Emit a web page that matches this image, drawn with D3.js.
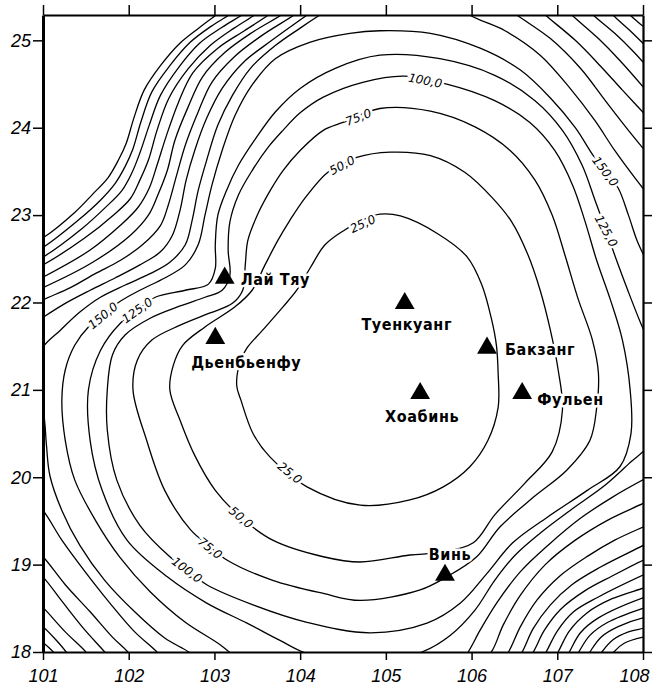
<!DOCTYPE html>
<html><head><meta charset="utf-8">
<script src="https://cdn.jsdelivr.net/npm/d3@7"></script>
<style>body{margin:0;background:#fff}</style>
</head><body>
<svg id="chart" width="652" height="687"></svg>
<script>
// ---- axis ticks ----
const xTicks = [101,102,103,104,105,106,107,108];
const yTicks = [18,19,20,21,22,23,24,25];

// ---- contour lines, [lon, lat] ----
const c25 = [[104.93,23.01],[105.17,22.99],[105.60,22.79],[105.95,22.52],[106.12,22.20],[106.23,21.82],[106.29,21.51],[106.31,21.19],[106.31,20.80],[106.19,20.42],[105.98,20.12],[105.67,19.89],[105.28,19.74],[104.70,19.68],[104.08,19.89],[103.65,20.23],[103.45,20.50],[103.31,20.88],[103.26,21.05],[103.30,21.32],[103.38,21.48],[103.56,21.68],[103.80,21.95],[103.96,22.14],[104.12,22.40],[104.29,22.66],[104.52,22.83],[104.72,22.94]];
const c50 = [[104.66,23.66],[105.05,23.72],[105.52,23.68],[105.92,23.49],[106.24,23.20],[106.47,22.92],[106.66,22.54],[106.80,22.14],[106.92,21.68],[107.01,21.23],[107.06,20.77],[106.94,20.29],[106.62,19.93],[106.27,19.57],[106.02,19.25],[105.63,19.14],[105.28,19.11],[104.70,19.03],[104.27,19.09],[103.68,19.28],[103.31,19.54],[103.01,19.85],[102.77,20.25],[102.60,20.65],[102.48,21.00],[102.52,21.28],[102.63,21.51],[102.89,21.72],[103.24,21.95],[103.44,22.14],[103.59,22.43],[103.74,22.71],[103.88,22.94],[104.06,23.20],[104.31,23.48],[104.49,23.58]];
const c75 = [[104.50,24.06],[104.93,24.22],[105.52,24.19],[106.04,24.01],[106.45,23.74],[106.74,23.40],[106.94,23.00],[107.09,22.54],[107.24,22.05],[107.41,21.57],[107.48,21.19],[107.46,20.80],[107.38,20.42],[107.11,20.08],[106.72,19.77],[106.33,19.43],[106.06,19.09],[105.71,18.86],[105.40,18.71],[104.70,18.59],[104.27,18.67],[103.68,18.82],[103.15,19.05],[102.93,19.22],[102.72,19.40],[102.42,19.85],[102.21,20.42],[102.05,21.00],[102.10,21.34],[102.27,21.57],[102.60,21.74],[102.95,21.88],[103.21,21.99],[103.33,22.14],[103.36,22.43],[103.39,22.71],[103.51,23.02],[103.65,23.28],[103.80,23.51],[104.00,23.74],[104.27,23.97]];
const c100 = [[104.73,24.52],[105.22,24.59],[105.46,24.54],[105.71,24.50],[106.27,24.31],[106.68,24.06],[106.97,23.74],[107.18,23.34],[107.32,22.94],[107.46,22.48],[107.62,22.03],[107.76,21.57],[107.85,21.00],[107.86,20.50],[107.73,20.12],[107.35,19.85],[106.88,19.54],[106.48,19.25],[106.18,18.90],[105.87,18.56],[105.48,18.33],[104.82,18.22],[104.08,18.34],[103.45,18.54],[102.91,18.77],[102.68,18.94],[102.48,19.09],[102.13,19.45],[101.86,19.97],[101.75,20.54],[101.75,21.00],[101.81,21.40],[101.96,21.63],[102.25,21.82],[102.60,21.96],[102.89,22.06],[103.09,22.14],[103.18,22.31],[103.16,22.60],[103.18,22.92],[103.28,23.23],[103.44,23.51],[103.63,23.78],[103.80,23.97],[104.00,24.17],[104.27,24.35]];
const c125 = [[108.24,21.00],[108.11,20.42],[107.83,20.15],[107.56,19.91],[107.15,19.62],[106.80,19.36],[106.51,19.11],[106.27,18.82],[106.04,18.48],[105.75,18.19],[105.42,18.00],[105.05,17.92],[104.47,17.92],[104.06,17.99],[103.77,18.13],[103.38,18.33],[102.91,18.56],[102.45,18.86],[101.98,19.28],[101.69,19.85],[101.55,20.42],[101.53,21.00],[101.67,21.45],[101.90,21.76],[102.10,21.91],[102.31,22.06],[102.66,22.14],[102.93,22.21],[103.01,22.39],[103.01,22.66],[103.04,23.00],[103.14,23.28],[103.28,23.57],[103.47,23.86],[103.71,24.18],[104.00,24.45],[104.41,24.68],[104.93,24.83],[105.63,24.79],[106.27,24.60],[106.74,24.31],[107.06,23.97],[107.29,23.57],[107.44,23.17],[107.57,22.82],[107.70,22.46],[107.83,22.12],[107.97,21.77],[108.11,21.45]];
const c150a = [[103.30,17.89],[103.07,18.08],[102.66,18.34],[102.25,18.69],[101.90,19.08],[101.61,19.51],[101.37,19.97],[101.26,20.42],[101.22,20.88],[101.26,21.23],[101.37,21.51],[101.53,21.72],[101.70,21.85],[101.88,22.00],[102.13,22.14],[102.42,22.28],[102.66,22.43],[102.81,22.66],[102.89,23.00],[102.97,23.34],[103.09,23.74],[103.24,24.14],[103.44,24.49],[103.71,24.79],[104.12,24.98],[104.58,25.08],[104.93,25.11],[105.52,25.08],[106.10,24.91],[106.57,24.66],[106.92,24.34],[107.21,24.00],[107.42,23.68],[107.56,23.50],[107.71,23.31],[107.83,23.00],[107.93,22.71],[108.06,22.43],[108.15,22.20]];
const c150b = [[105.87,17.89],[105.96,18.00],[106.10,18.25],[106.30,18.57],[106.57,18.92],[106.89,19.22],[107.27,19.53],[107.64,19.77],[108.00,19.97],[108.14,20.04]];
const c175a = [[104.41,25.40],[104.23,25.29],[104.00,25.14],[103.71,24.94],[103.42,24.68],[103.21,24.37],[103.04,24.03],[102.91,23.63],[102.81,23.28],[102.74,22.94],[102.66,22.66],[102.48,22.46],[102.25,22.33],[101.96,22.20],[101.67,22.06],[101.43,21.89],[101.20,21.68],[101.00,21.49],[100.88,21.23],[100.94,20.97],[101.01,20.71],[101.04,20.37],[101.08,20.02],[101.22,19.62],[101.43,19.22],[101.72,18.82],[102.07,18.46],[102.42,18.16],[102.70,18.00],[102.83,17.89]];
const c175b = [[105.87,25.40],[105.98,25.29],[106.39,25.11],[106.80,24.83],[107.15,24.45],[107.44,24.08],[107.67,23.74],[107.91,23.42],[108.11,23.17]];
const c175c = [[106.10,17.89],[106.23,18.00],[106.37,18.31],[106.57,18.65],[106.86,19.00],[107.21,19.28],[107.59,19.51],[108.00,19.70],[108.14,19.77]];
const c200a = [[104.23,25.40],[104.08,25.29],[103.67,25.00],[103.34,24.75],[103.09,24.45],[102.91,24.11],[102.77,23.74],[102.67,23.40],[102.60,23.06],[102.51,22.77],[102.37,22.58],[102.13,22.43],[101.84,22.28],[101.55,22.14],[101.26,21.99],[101.00,21.83],[100.85,21.73]];
const c200b = [[100.85,19.76],[101.00,19.62],[101.22,19.28],[101.49,18.92],[101.78,18.56],[102.07,18.23],[102.33,18.00],[102.42,17.89]];
const c200c = [[106.39,25.40],[106.53,25.29],[106.92,25.02],[107.27,24.68],[107.56,24.31],[107.83,23.97],[108.14,23.60]];
const c200d = [[106.33,17.89],[106.43,18.00],[106.57,18.29],[106.76,18.59],[107.03,18.87],[107.36,19.10],[107.67,19.28],[108.00,19.43],[108.14,19.49]];
const c225a = [[104.08,25.40],[103.93,25.29],[103.56,25.06],[103.23,24.81],[102.97,24.52],[102.81,24.18],[102.66,23.80],[102.56,23.46],[102.46,23.11],[102.37,22.88],[102.16,22.66],[101.90,22.48],[101.61,22.33],[101.32,22.17],[101.00,22.03],[100.85,21.95]];
const c225b = [[100.85,19.22],[101.00,19.09],[101.26,18.77],[101.55,18.46],[101.81,18.17],[101.99,18.00],[102.07,17.89]];
const c225c = [[106.74,25.40],[106.86,25.29],[107.21,25.00],[107.50,24.71],[107.76,24.43],[108.14,24.03]];
const c225d = [[106.51,17.89],[106.59,18.00],[106.72,18.27],[106.92,18.54],[107.17,18.77],[107.50,18.97],[108.00,19.22],[108.14,19.30]];
const c250a = [[103.93,25.40],[103.78,25.29],[103.44,25.09],[103.12,24.86],[102.86,24.58],[102.69,24.23],[102.54,23.86],[102.45,23.51],[102.34,23.23],[102.23,23.00],[102.02,22.77],[101.58,22.46],[101.00,22.17],[100.85,22.11]];
const c250b = [[100.85,19.00],[101.00,18.86],[101.23,18.57],[101.49,18.25],[101.72,18.00],[101.81,17.89]];
const c250c = [[107.06,25.40],[107.17,25.29],[107.48,25.02],[107.73,24.77],[108.14,24.31]];
const c250d = [[106.64,17.89],[106.72,18.00],[106.85,18.25],[107.04,18.49],[107.32,18.70],[107.64,18.87],[108.00,19.05],[108.14,19.11]];
const c275a = [[103.78,25.40],[103.63,25.29],[103.35,25.11],[103.04,24.91],[102.75,24.63],[102.58,24.29],[102.44,23.91],[102.33,23.57],[102.24,23.31],[102.11,23.09],[101.90,22.88],[101.55,22.60],[101.00,22.29],[100.85,22.22]];
const c275b = [[100.85,18.65],[101.00,18.51],[101.26,18.23],[101.50,18.00],[101.58,17.89]];
const c275c = [[107.32,25.40],[107.42,25.29],[107.67,25.08],[107.87,24.89],[108.14,24.60]];
const c275d = [[106.80,17.89],[106.87,18.00],[107.00,18.24],[107.19,18.46],[107.48,18.63],[108.00,18.88],[108.14,18.94]];
const c300a = [[103.63,25.40],[103.47,25.29],[103.23,25.14],[102.95,24.94],[102.69,24.67],[102.47,24.34],[102.33,23.97],[102.23,23.63],[102.13,23.40],[102.02,23.19],[101.81,22.99],[101.49,22.74],[101.00,22.43],[100.85,22.36]];
const c300b = [[100.85,18.41],[101.00,18.29],[101.15,18.14],[101.27,18.00],[101.34,17.89]];
const c300c = [[107.56,25.40],[107.65,25.29],[107.85,25.11],[108.14,24.83]];
const c300d = [[106.94,17.89],[107.01,18.00],[107.14,18.24],[107.35,18.45],[107.64,18.61],[108.00,18.73],[108.14,18.78]];
const c325a = [[103.47,25.40],[103.32,25.29],[103.09,25.15],[102.83,24.97],[102.59,24.70],[102.37,24.37],[102.24,24.03],[102.13,23.71],[102.04,23.49],[101.92,23.28],[101.72,23.08],[101.46,22.85],[101.00,22.52],[100.85,22.45]];
const c325b = [[100.85,18.23],[101.00,18.11],[101.12,18.00],[101.18,17.89]];
const c325c = [[107.76,25.40],[107.85,25.29],[107.94,25.21],[108.14,25.05]];
const c325d = [[107.07,17.89],[107.14,18.00],[107.27,18.22],[107.48,18.39],[108.00,18.62],[108.14,18.66]];
const c350a = [[103.32,25.40],[103.17,25.29],[102.96,25.16],[102.72,24.98],[102.48,24.71],[102.27,24.41],[102.14,24.06],[102.05,23.76],[101.96,23.56],[101.84,23.36],[101.67,23.17],[101.41,22.94],[101.00,22.63],[100.85,22.56]];
const c350d = [[107.18,17.89],[107.25,18.00],[107.38,18.19],[107.59,18.34],[108.00,18.50],[108.14,18.54]];
const c375a = [[103.17,25.40],[103.02,25.29],[102.83,25.15],[102.60,24.97],[102.37,24.71],[102.18,24.43],[102.06,24.11],[101.97,23.82],[101.88,23.63],[101.76,23.43],[101.58,23.24],[101.37,23.03],[101.00,22.74],[100.85,22.67]];
const c375d = [[107.31,17.89],[107.38,18.00],[107.51,18.17],[107.71,18.29],[108.00,18.39],[108.14,18.41]];
const c400d = [[107.45,17.89],[107.52,18.00],[107.65,18.14],[107.83,18.23],[108.00,18.27],[108.14,18.30]];
const c425d = [[107.59,17.89],[107.66,18.00],[107.78,18.10],[108.00,18.17],[108.14,18.19]];

const closedLines = [c25, c50, c75, c100, c125];
const openLines = [c150a,c150b,c175a,c175b,c175c,c200a,c200b,c200c,c200d,c225a,c225b,c225c,c225d,
  c250a,c250b,c250c,c250d,c275a,c275b,c275c,c275d,c300a,c300b,c300c,c300d,c325a,c325b,c325c,c325d,
  c350a,c350d,c375a,c375d,c400d,c425d];

// ---- contour value labels: lon, lat, text, angle ----
const labelLon  = [104.73,104.49,104.68,105.46,107.56,107.57,101.70,102.10,103.88,103.31,102.95,102.68];
const labelLat  = [22.90, 23.57, 24.12, 24.54, 23.50, 22.82, 21.85, 21.91, 20.05, 19.54, 19.19, 18.94];
const labelText = ["25,0","50,0","75,0","100,0","150,0","125,0","150,0","125,0","25,0","50,0","75,0","100,0"];
const labelAngle= [-25,-28,-21,11,53,62,-40,-36,39,40,39,37];

// ---- stations ----
const stationName = ["Лай Тяу","Дьенбьенфу","Туенкуанг","Бакзанг","Фульен","Хоабинь","Винь"];
const stationLon  = [103.12,103.01,105.22,106.18,106.59,105.40,105.69];
const stationLat  = [22.28, 21.59, 21.99, 21.48, 20.96, 20.96, 18.88];
const stationAnchor = ["start","middle","middle","start","start","middle","middle"];
const stationDx = [16,31,2,18,15,2,5];
const stationDy = [7,30,27,7,12,29,-15];

// ---- drawing ----
const svg = d3.select("#chart");
const L=43, R=643, T=15, B=652;
const x = d3.scaleLinear().domain([101,108]).range([L,R]);
const y = d3.scaleLinear().domain([18,25.29]).range([B,T]);

svg.append("defs").append("clipPath").attr("id","clip")
  .append("rect").attr("x",L).attr("y",T).attr("width",R-L).attr("height",B-T);

const g = svg.append("g").attr("clip-path","url(#clip)");
const lineOpen = d3.line().x(d=>x(d[0])).y(d=>y(d[1])).curve(d3.curveCatmullRom.alpha(0.5));
const lineClosed = d3.line().x(d=>x(d[0])).y(d=>y(d[1])).curve(d3.curveCatmullRomClosed.alpha(0.5));

g.selectAll("path.cl").data(closedLines).join("path").attr("class","cl")
  .attr("d",lineClosed).attr("fill","none").attr("stroke","#000").attr("stroke-width",1.3);
g.selectAll("path.ol").data(openLines).join("path").attr("class","ol")
  .attr("d",lineOpen).attr("fill","none").attr("stroke","#000").attr("stroke-width",1.3);

// contour labels
const lg = svg.append("g");
labelText.forEach((t,i)=>{
  lg.append("text")
    .attr("transform",`translate(${x(labelLon[i])},${y(labelLat[i])}) rotate(${labelAngle[i]})`)
    .attr("text-anchor","middle").attr("dy","0.35em")
    .attr("font-family","DejaVu Sans").attr("font-style","italic").attr("font-size",12)
    .attr("stroke","#fff").attr("stroke-width",5).attr("paint-order","stroke")
    .attr("fill","#000").text(t);
});

// stations
const sg = svg.append("g");
stationName.forEach((n,i)=>{
  const px=x(stationLon[i]), py=y(stationLat[i]);
  sg.append("text").attr("x",px+stationDx[i]).attr("y",py+stationDy[i])
    .attr("text-anchor",stationAnchor[i])
    .attr("font-family","DejaVu Sans").attr("font-size",16).attr("font-weight","bold")
    .attr("font-stretch","condensed").attr("letter-spacing",0.6)
    .attr("stroke","#fff").attr("stroke-width",5).attr("paint-order","stroke").attr("stroke-linejoin","round")
    .attr("fill","#000").text(n);
  sg.append("path").attr("transform",`translate(${px},${py})`)
    .attr("d",d3.symbol(d3.symbolTriangle,170)()).attr("fill","#000");
});

// axes
const fontAx = "Liberation Sans";
const ax = svg.append("g").attr("transform",`translate(0,${B})`)
  .call(d3.axisBottom(x).tickValues(xTicks).tickSize(8).tickSizeOuter(0).tickPadding(6).tickFormat(d3.format("d")));
const ayl = svg.append("g").attr("transform",`translate(${L},0)`)
  .call(d3.axisLeft(y).tickValues(yTicks).tickSize(10).tickSizeOuter(0).tickPadding(2).tickFormat(d3.format("d")));
const at = svg.append("g").attr("transform",`translate(0,${T})`)
  .call(d3.axisTop(x).tickValues(xTicks).tickSize(10).tickSizeOuter(0).tickFormat(""));
const ar = svg.append("g").attr("transform",`translate(${R},0)`)
  .call(d3.axisRight(y).tickValues(yTicks).tickSize(9).tickSizeOuter(0).tickFormat(""));
[ax,ayl,at,ar].forEach(a=>{
  a.select(".domain").attr("stroke","#000").attr("stroke-width",2.2);
  a.selectAll(".tick line").attr("stroke","#000").attr("stroke-width",1.5);
  a.selectAll(".tick text").attr("font-family",fontAx).attr("font-style","italic")
    .attr("font-size",18).attr("fill","#000");
});
ayl.select(".domain").attr("stroke-width",3);
ax.selectAll(".tick text").attr("dy","0.9em").attr("dx",d=>d===108?-9:0);
</script>
</body></html>
